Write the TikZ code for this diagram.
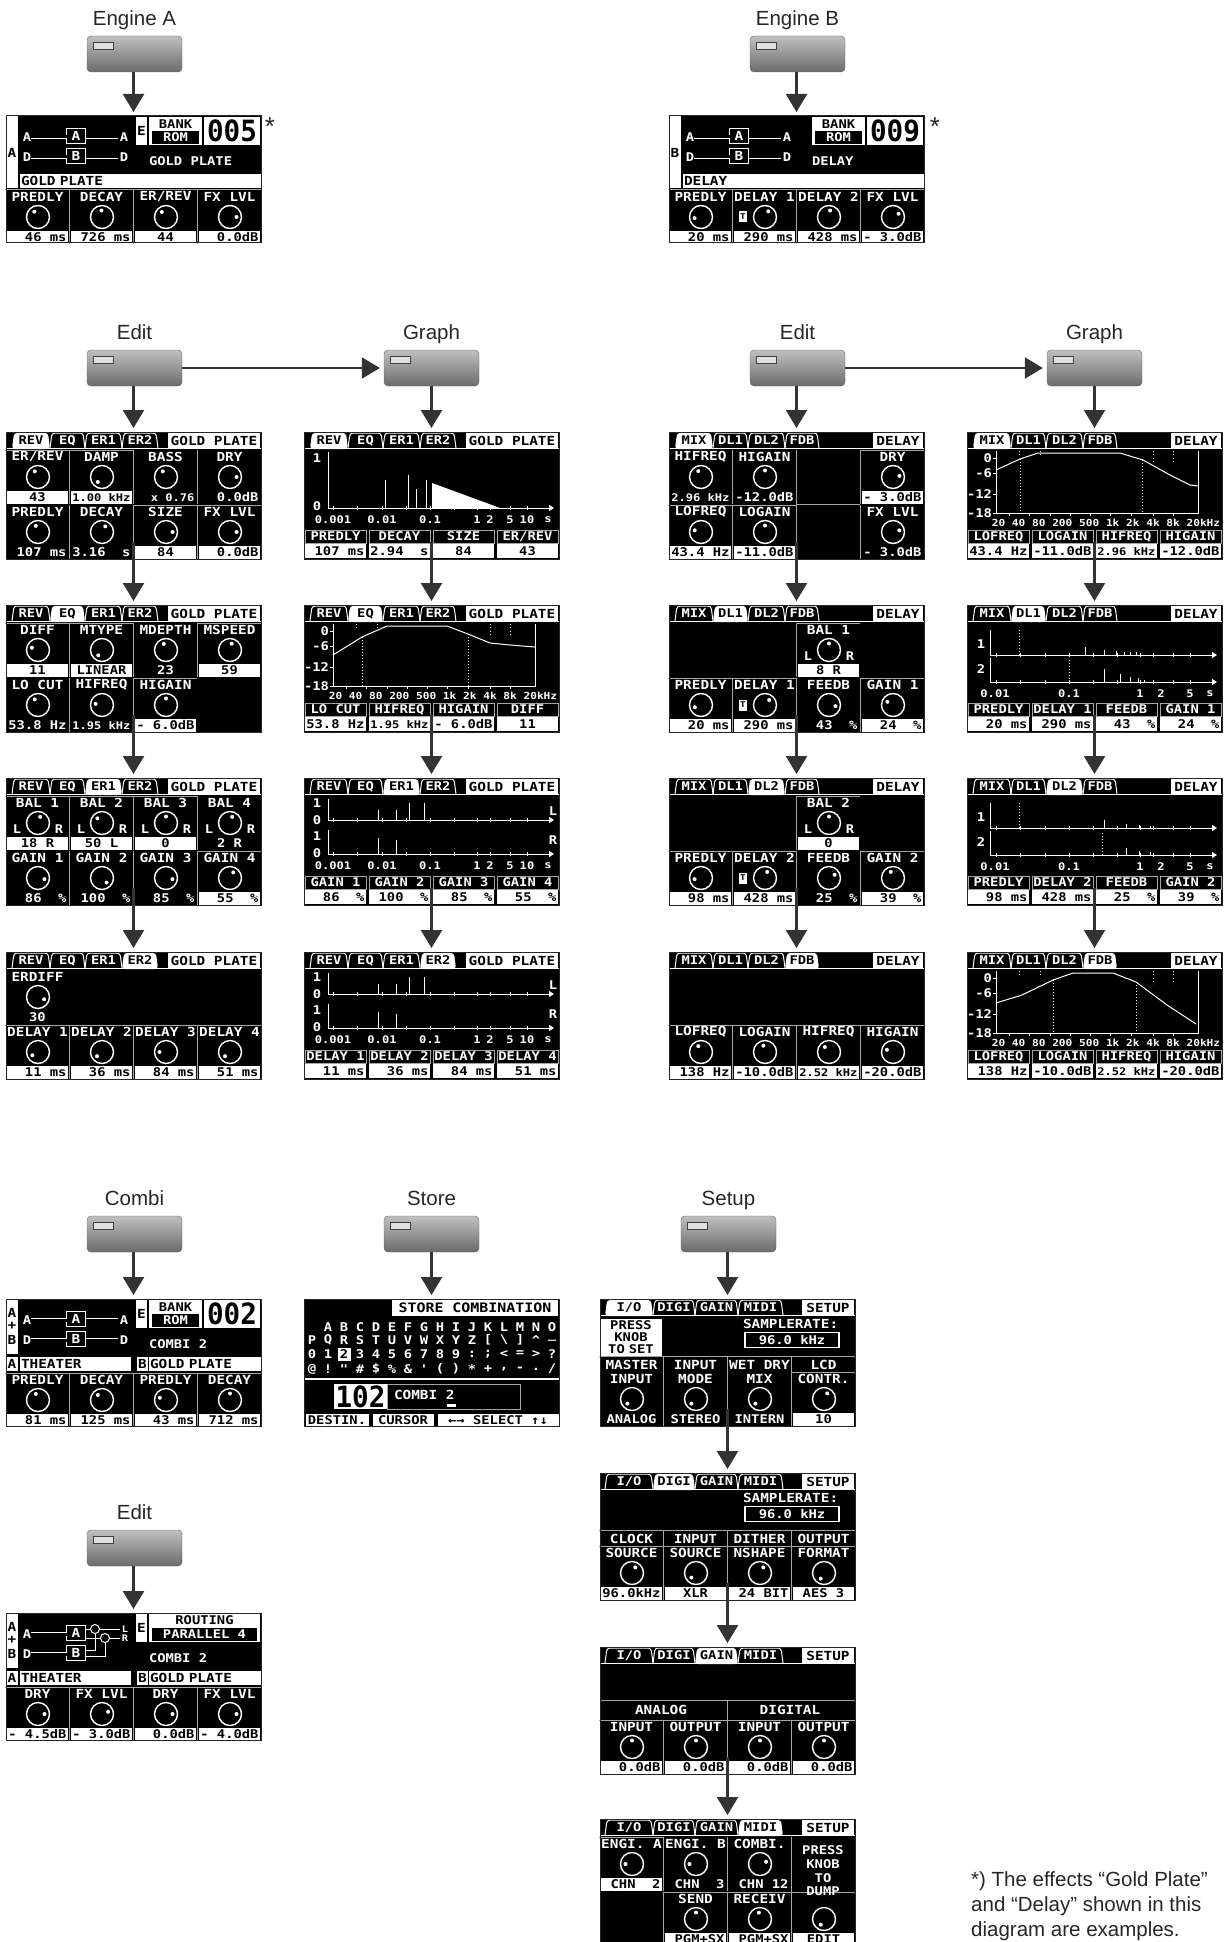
\documentclass[tikz,border=0pt]{standalone}
\usepackage{fontspec}
\usepackage{graphicx}
\setmainfont{Liberation Sans}
\newfontfamily\lcdfont[FakeStretch=1.15]{DejaVu Sans Mono}
\usetikzlibrary{arrows.meta, positioning, calc}
\newcommand{\lcdsize}[1]{\lcdfont\bfseries\fontsize{#1}{#1}\selectfont}
\newcommand{\vs}[1]{{\lcdsize{10.5}#1}}
\newcommand{\ct}[1]{\makebox[58pt][c]{#1}}
\newcommand{\bignum}[1]{\scalebox{1}[1.22]{#1}}
\newcommand{\iotext}{I/O}
\tikzset{
    btnkey/.style={rectangle, draw=black!60, rounded corners=4pt, top color=black!25, bottom color=black!58, minimum width=95pt, minimum height=36pt, inner sep=0pt},
    btnled/.style={rectangle, draw=black!75, fill=black!12, minimum width=20pt, minimum height=7pt, inner sep=0pt},
    caption/.style={font=\fontsize{20.5}{24.8}\selectfont, text=black!85, inner sep=0pt, text height=15pt, text depth=4.5pt},
    arrow/.style={-{Triangle[length=18pt,width=21pt]}, line width=2.4pt, draw=black!80, shorten >=4pt},
    lcdbox/.style={rectangle, fill=black, anchor=north west, minimum width=255pt, minimum height=127pt, inner sep=0pt, outer sep=0pt},
    lcdtxt/.style={font=\lcdsize{12.5}, text=white, inner sep=0pt, outer sep=0pt},
    lcdsmall/.style={lcdtxt, font=\lcdsize{12}},
    lcdval/.style={lcdtxt, font=\lcdsize{12}, minimum width=61pt, minimum height=13pt, text height=8pt, text depth=0pt},
    valw/.style={fill=white, text=black},
    valb/.style={fill=black, text=white},
    rulew/.style={draw=gray!70, line width=1pt},
    ruleb/.style={},
    lcdsep/.style={draw=gray!70, line width=1pt},
    lcdline/.style={draw=white, line width=1pt},
    lcdaxis/.style={lcdline, -{Triangle[length=5pt,width=6pt]}},
    lcddots/.style={draw=white, line width=1pt, dash pattern=on 1pt off 2pt},
    knobdial/.style={draw=white, line width=1.4pt},
    dline/.style={draw=white, double=black, line width=0.9pt, double distance=3pt},
    routebox/.style={lcdtxt, draw=white, line width=1pt, fill=black, minimum width=19pt, minimum height=15pt},
    mixdot/.style={circle, draw=white, line width=1pt, fill=black, minimum size=9pt, inner sep=0pt},
}
% one screen, everything inside is placed from its top left corner
\newenvironment{lcd}[3]{\node[lcdbox] (#1) at (#2,#3) {};\begin{scope}[shift={(#1.north west)}, name prefix=#1-]}{\draw[black!85, line width=1pt] (0,0) rectangle (255,127);\end{scope}}
\newcommand{\btnnode}[4]{
    \node[btnkey] (#1) at (#2,#3) {};
    \node[btnled] (#1led) at ([xshift=16.5pt,yshift=-10pt]#1.north west) {};
    \node[caption, above=5.5pt of #1] (#1cap) {#4};
}
\newcommand{\lcddial}[3]{
    \draw[knobdial] (#1,#2) circle[radius=11.5pt];
    \fill[white] ({#1+6.5*sin(#3)},{#2-6.5*cos(#3)}) circle[radius=2pt];
}
\newcommand{\lcdcell}[6]{
    \ifnum#1>0 \draw[lcdsep] (#1-1,#2) -- (#1-1,#2+54); \fi
    \path[rule#6] (#1-1,#2) -- (#1+63,#2);
    \node[lcdtxt] (lab#1x#2) at (#1+31.5,#2+7) {#3};
    \lcddial{#1+32}{#2+27}{#5}
    \node[lcdval, val#6] (val#1x#2) at (#1+31.5,#2+47.5) {\makebox[58pt][r]{#4}};
}
% first line of a two line label
\newcommand{\lcdtop}[2]{
    \draw[lcdsep] (#1-1,57) -- (#1+63,57);
    \ifnum#1>0 \draw[lcdsep] (#1-1,57) -- (#1-1,73); \fi
    \node[lcdtxt] (top#1) at (#1+31.5,66) {#2};
}
\newcommand{\lcdlr}[2]{
    \node[lcdsmall] (ll#1x#2) at (#1+11,#2+33) {L};
    \node[lcdsmall] (rr#1x#2) at (#1+53,#2+33) {R};
}
\newcommand{\lcdtbox}[2]{
    \node[lcdtxt, font=\lcdsize{8}, fill=white, text=black, minimum width=8pt, minimum height=11pt] (tb#1) at (#1+10,#2+27) {T};
}
\newcommand{\revtabs}{6/44/REV,44/79/EQ,79/116/ER1,116/152/ER2}
\newcommand{\mixtabs}{6/44/MIX,44/79/DL1,79/116/DL2,116/150/FDB}
\newcommand{\setuptabs}{5/53/\iotext,53/95/DIGI,95/138/GAIN,138/183/MIDI}
\newcommand{\tabstrip}[4]{
    \foreach \tl/\tr/\tn [count=\i] in #1 {
        \ifnum\i=#2
            \path[fill=white, rounded corners=3pt] (\tl,17) -- ({\tl+2},1) -- ({\tr-2},1) -- (\tr,17) -- cycle;
            \node[lcdsmall, text=black] (tab\i) at ({(\tl+\tr)/2},8.5) {\tn};
        \else
            \draw[lcdline, rounded corners=3pt] (\tl,16) -- ({\tl+2},1) -- ({\tr-2},1) -- (\tr,16);
            \node[lcdsmall] (tab\i) at ({(\tl+\tr)/2},8.5) {\tn};
        \fi
    }
    \draw[lcdline] (0,16.5) -- (255,16.5);
    \node[lcdtxt, fill=white, text=black, minimum width={(254-#4)*1pt}, minimum height=16pt] (title) at ({(#4+254)/2},8.5) {#3};
}
\newcommand{\lcdstrip}[1]{
    \fill[white] (0,0) rectangle (12,72);
    \node[lcdtxt, text=black] (strip) at (6,37) {#1};
}
\newcommand{\combistrip}{
    \fill[white] (0,0) rectangle (12,55);
    \node[lcdtxt, text=black] (stripa) at (6,14) {A};
    \node[lcdtxt, text=black] (stripp) at (6,27) {+};
    \node[lcdtxt, text=black] (stripb) at (6,41) {B};
}
\newcommand{\lcdband}[1]{
    \node[lcdtxt, text=black, fill=white, anchor=north west, text width=239pt, inner xsep=1pt, minimum height=14pt] (band) at (14,58) {#1};
}
\newcommand{\combiband}[2]{
    \node[lcdtxt, text=black, fill=white, minimum width=12pt, minimum height=14pt] (banda) at (6,65) {A};
    \node[lcdtxt, text=black, fill=white, anchor=north west, text width=109pt, inner xsep=1pt, minimum height=14pt] (bandat) at (14,58) {#1};
    \node[lcdtxt, text=black, fill=white, minimum width=11pt, minimum height=14pt] (bandb) at (136.5,65) {B};
    \node[lcdtxt, text=black, fill=white, anchor=north west, text width=110pt, inner xsep=1pt, minimum height=14pt] (bandbt) at (143,58) {#2};
}
\newcommand{\lcdroute}{
    \node[lcdsmall] (ina) at (21,21) {A};
    \node[lcdsmall] (ind) at (21,41) {D};
    \node[lcdsmall] (outa) at (118,21) {A};
    \node[lcdsmall] (outd) at (118,41) {D};
    \node[routebox] (boxa) at (70,20) {A};
    \node[routebox] (boxb) at (70,40) {B};
    \draw[dline] (ina.east) -- ++(3,0) -- (boxa.west |- ina.east);
    \draw[dline] (ind.east) -- ++(3,0) -- (boxb.west |- ind.east);
    \draw[dline] (boxa.east |- outa.west) -- ([xshift=-2pt]outa.west);
    \draw[dline] (boxb.east |- outd.west) -- ([xshift=-2pt]outd.west);
}
\newcommand{\lcdparallel}{
    \node[lcdsmall] (ina) at (21,21) {A};
    \node[lcdsmall] (ind) at (21,41) {D};
    \node[lcdtxt, font=\lcdsize{9}] (outl) at (119,16) {L};
    \node[lcdtxt, font=\lcdsize{9}] (outr) at (119,25) {R};
    \node[routebox] (boxa) at (70,20) {A};
    \node[routebox] (boxb) at (70,40) {B};
    \draw[dline] (ina.east) -- ++(3,0) -- (boxa.west |- ina.east);
    \draw[dline] (ind.east) -- ++(3,0) -- (boxb.west |- ind.east);
    \draw[lcdline] (80,16) -- ([xshift=-2pt]outl.west);
    \draw[lcdline] (80,25) -- ([xshift=-2pt]outr.west);
    \draw[lcdline] (80,37) -| (89,16);
    \draw[lcdline] (80,43) -| (99,25);
    \node[mixdot] (mixl) at (89,16) {};
    \node[mixdot] (mixr) at (99,25) {};
}
\newcommand{\lcdebox}{
    \fill[white] (130,1) rectangle (141,29);
    \node[lcdtxt, text=black] (ebox) at (135.5,15) {E};
}
\newcommand{\bankbox}[1]{
    \fill[white] (143,1) rectangle (196,29);
    \node[lcdsmall, text=black] (bank) at (169.5,8) {BANK};
    \node[lcdsmall, fill=black, minimum width=47pt, minimum height=13pt] (rom) at (169.5,21.5) {ROM};
    \node[lcdtxt, font=\lcdsize{24}, fill=white, text=black, minimum width=56pt, minimum height=28pt] (prog) at (226,15) {\bignum{#1}};
}
\newcommand{\lcdtitle}[1]{
    \node[lcdsmall, anchor=west] (name) at (143,45) {#1};
}
\newcommand{\graphcell}[3]{
    \node[lcdval, valb, draw=gray!70, line width=1pt, minimum width=61pt] (lab#1) at (#1+31.5,104.5) {#2};
    \node[lcdval, valw, minimum height=14pt] (val#1) at (#1+31.5,119) {\makebox[58pt][r]{#3}};
}
\newcommand{\timelabels}{
    \foreach \tx/\tt in {29/0.001,78/0.01,126/0.1,173/1,186/2,206/5,223/10,244/s} {
        \node[lcdtxt, font=\lcdsize{10.5}] (tm\tx) at (\tx,88) {\tt};
    }
}
\newcommand{\timeaxis}[3]{
    \draw[lcdline] (#1,#3) -- (#1,#2);
    \draw[lcdaxis] (#1,#2) -- (250,#2);
    \foreach \tx in {29,53,78,102,126,150,173,186,206,223} {
        \draw[lcdline] (\tx,#2-2) -- (\tx,#2+2);
    }
}
\newcommand{\ertimes}{
    \timeaxis{24}{42}{21}
    \timeaxis{24}{76}{52}
    \node[lcdsmall] (yaa) at (13,25) {1};
    \node[lcdsmall] (yab) at (13,42) {0};
    \node[lcdsmall] (yba) at (13,58) {1};
    \node[lcdsmall] (ybb) at (13,75) {0};
    \node[lcdsmall] (side1) at (249,33) {L};
    \node[lcdsmall] (side2) at (249,62) {R};
    \timelabels
}
\newcommand{\dltimes}{
    \timeaxis{23}{50}{25}
    \timeaxis{23}{77}{53}
    \node[lcdsmall] (ya) at (14,39) {1};
    \node[lcdsmall] (yb) at (14,64) {2};
    \foreach \tx/\tt in {28/0.01,102/0.1,173/1,194/2,223/5,243/s} {
        \node[lcdtxt, font=\lcdsize{10.5}] (tm\tx) at (\tx,89) {\tt};
    }
}
\newcommand{\eqaxis}{
    \draw[lcdline] (29,19) -- (29,81) -- (231,81) -- (231,19);
    \foreach \yy/\yl in {26/0,41/-6,62/-12,81/-18} {
        \node[lcdsmall, anchor=east] (yl\yy) at (25,\yy) {\yl};
        \draw[lcdline] (26,\yy) -- (29,\yy);
    }
    \foreach \xx in {42,62,83,103,123,143,164,186,206} {
        \draw[lcdline] (\xx,81) -- (\xx,84);
    }
    \foreach \xx in {52,73,186,206} {
        \draw[lcddots] (\xx,19) -- (\xx,24);
    }
    \draw[lcddots] (186,26) -- (186,32);
    \draw[lcddots] (206,26) -- (206,32);
    \node[lcdtxt, font=\lcdsize{9.7}] (freq) at (139,91) {20 40 80 200 500 1k 2k 4k 8k 20kHz};
}
\newcommand{\storerow}[3]{
    \foreach \ch [count=\i from #2] in {#3} {
        \node[lcdsmall] (ch#1x\i) at ({8+16*\i},#1) {\ch};
    }
}
\newcommand{\samplerate}{
    \node[lcdtxt, anchor=west] (srate) at (143,25) {SAMPLERATE:};
    \node[lcdsmall, draw=white, line width=1.4pt, fill=black, minimum width=94pt, minimum height=15pt] (srval) at (192,41) {96.0 kHz};
}
\begin{document}
\begin{tikzpicture}[x=1pt, y=-1pt]
    \path[use as bounding box, clip] (0,0) rectangle (1228,1942);

    % Engine A
    \btnnode{btnenga}{134.5}{54}{Engine A}
    \begin{lcd}{enga}{6}{116}
        \lcdstrip{A} \lcdband{GOLD PLATE}
        \lcdroute \lcdebox \bankbox{005} \lcdtitle{GOLD PLATE}
        \lcdcell{0}{74}{PREDLY}{46 ms}{-35}{w}
        \lcdcell{64}{74}{DECAY}{726 ms}{-5}{w}
        \lcdcell{128}{74}{ER/REV}{\ct{44}}{-40}{w}
        \lcdcell{192}{74}{FX LVL}{0.0dB}{90}{w}
    \end{lcd}
    \node[caption, font=\fontsize{26}{26}\selectfont] (stara) at (270,130) {*};

    % Engine B
    \btnnode{btnengb}{797.5}{54}{Engine B}
    \begin{lcd}{engb}{669}{116}
        \lcdstrip{B} \lcdband{DELAY}
        \lcdroute \bankbox{009} \lcdtitle{DELAY}
        \lcdcell{0}{74}{PREDLY}{20 ms}{-100}{w}
        \lcdcell{64}{74}{DELAY 1}{290 ms}{30}{w} \lcdtbox{64}{74}
        \lcdcell{128}{74}{DELAY 2}{428 ms}{10}{w}
        \lcdcell{192}{74}{FX LVL}{- 3.0dB}{60}{w}
    \end{lcd}
    \node[caption, font=\fontsize{26}{26}\selectfont] (starb) at (935,130) {*};

    % Edit A
    \btnnode{btnedita}{134.5}{368}{Edit}
    \btnnode{btngrapha}{431.5}{368}{Graph}
    \begin{lcd}{reva}{6}{432}
        \tabstrip{\revtabs}{1}{GOLD PLATE}{162}
        \lcdcell{0}{18}{ER/REV}{\ct{43}}{-30}{w}
        \lcdcell{64}{18}{DAMP}{\vs{1.00 kHz}}{-140}{w}
        \lcdcell{128}{18}{BASS}{\vs{x 0.76}}{-30}{b}
        \lcdcell{192}{18}{DRY}{0.0dB}{90}{b}
        \lcdcell{0}{73}{PREDLY}{107 ms}{-20}{b}
        \lcdcell{64}{73}{DECAY}{3.16~~s}{30}{b}
        \lcdcell{128}{73}{SIZE}{\ct{84}}{90}{w}
        \lcdcell{192}{73}{FX LVL}{0.0dB}{90}{w}
    \end{lcd}
    \begin{lcd}{eqa}{6}{605}
        \tabstrip{\revtabs}{2}{GOLD PLATE}{162}
        \lcdcell{0}{18}{DIFF}{\ct{11}}{-70}{w}
        \lcdcell{64}{18}{MTYPE}{\ct{LINEAR}}{-145}{w}
        \lcdcell{128}{18}{MDEPTH}{\ct{23}}{-20}{b}
        \lcdcell{192}{18}{MSPEED}{\ct{59}}{15}{w}
        \lcdcell{0}{73}{LO CUT}{53.8 Hz}{-30}{b}
        \lcdcell{64}{73}{HIFREQ}{\vs{1.95 kHz}}{-80}{b}
        \lcdcell{128}{73}{HIGAIN}{- 6.0dB}{0}{w}
    \end{lcd}
    \begin{lcd}{era}{6}{778}
        \tabstrip{\revtabs}{3}{GOLD PLATE}{162}
        \lcdcell{0}{18}{BAL 1}{\ct{18 R}}{20}{w} \lcdlr{0}{18}
        \lcdcell{64}{18}{BAL 2}{\ct{50 L}}{-45}{w} \lcdlr{64}{18}
        \lcdcell{128}{18}{BAL 3}{\ct{0}}{0}{w} \lcdlr{128}{18}
        \lcdcell{192}{18}{BAL 4}{\ct{2 R}}{20}{b} \lcdlr{192}{18}
        \lcdcell{0}{73}{GAIN 1}{86~~\%}{100}{b}
        \lcdcell{64}{73}{GAIN 2}{100~~\%}{135}{b}
        \lcdcell{128}{73}{GAIN 3}{85~~\%}{100}{b}
        \lcdcell{192}{73}{GAIN 4}{55~~\%}{30}{w}
    \end{lcd}
    \begin{lcd}{erb}{6}{952}
        \tabstrip{\revtabs}{4}{GOLD PLATE}{162}
        \lcdcell{0}{18}{ERDIFF}{\ct{30}}{110}{b}
        \lcdcell{0}{73}{DELAY 1}{11 ms}{-120}{w}
        \lcdcell{64}{73}{DELAY 2}{36 ms}{-130}{w}
        \lcdcell{128}{73}{DELAY 3}{84 ms}{-90}{w}
        \lcdcell{192}{73}{DELAY 4}{51 ms}{-130}{w}
    \end{lcd}

    % Graph A
    \begin{lcd}{greva}{304}{432}
        \tabstrip{\revtabs}{1}{GOLD PLATE}{162}
        \timeaxis{24}{76}{20}
        \node[lcdsmall] (ya) at (13,26) {1};
        \node[lcdsmall] (yb) at (13,74) {0};
        \draw[lcdline] (81,76) -- (81,48);
        \draw[lcdline] (104,76) -- (104,43);
        \draw[lcdline] (112,76) -- (112,57);
        \draw[lcdline] (122,76) -- (122,48);
        \fill[white] (128,51) -- (196,76) -- (128,76) -- cycle;
        \timelabels
        \graphcell{0}{PREDLY}{107 ms}
        \graphcell{64}{DECAY}{2.94~~s}
        \graphcell{128}{SIZE}{\ct{84}}
        \graphcell{192}{ER/REV}{\ct{43}}
    \end{lcd}
    \begin{lcd}{geqa}{304}{605}
        \tabstrip{\revtabs}{2}{GOLD PLATE}{162}
        \eqaxis
        \draw[lcdline] (29,50) -- (58,32) -- (83,21) -- (143,21) -- (164,29) -- (186,38) -- (206,40) -- (231,42);
        \draw[lcddots] (58,32) -- (58,81);
        \draw[lcddots] (164,29) -- (164,81);
        \graphcell{0}{LO CUT}{53.8 Hz}
        \graphcell{64}{HIFREQ}{\vs{1.95 kHz}}
        \graphcell{128}{HIGAIN}{- 6.0dB}
        \graphcell{192}{DIFF}{\ct{11}}
    \end{lcd}
    \begin{lcd}{gera}{304}{778}
        \tabstrip{\revtabs}{3}{GOLD PLATE}{162}
        \ertimes
        \draw[lcdline] (74,42) -- (74,32);
        \draw[lcdline] (92,42) -- (92,32);
        \draw[lcdline] (105,42) -- (105,25);
        \draw[lcdline] (120,42) -- (120,25);
        \draw[lcdline] (74,76) -- (74,60);
        \draw[lcdline] (92,76) -- (92,62);
        \graphcell{0}{GAIN 1}{86~~\%}
        \graphcell{64}{GAIN 2}{100~~\%}
        \graphcell{128}{GAIN 3}{85~~\%}
        \graphcell{192}{GAIN 4}{55~~\%}
    \end{lcd}
    \begin{lcd}{gerb}{304}{952}
        \tabstrip{\revtabs}{4}{GOLD PLATE}{162}
        \ertimes
        \draw[lcdline] (74,42) -- (74,32);
        \draw[lcdline] (92,42) -- (92,32);
        \draw[lcdline] (105,42) -- (105,25);
        \draw[lcdline] (120,42) -- (120,25);
        \draw[lcdline] (74,76) -- (74,60);
        \draw[lcdline] (92,76) -- (92,62);
        \graphcell{0}{DELAY 1}{11 ms}
        \graphcell{64}{DELAY 2}{36 ms}
        \graphcell{128}{DELAY 3}{84 ms}
        \graphcell{192}{DELAY 4}{51 ms}
    \end{lcd}

    % Edit B
    \btnnode{btneditb}{797.5}{368}{Edit}
    \btnnode{btngraphb}{1094.5}{368}{Graph}
    \begin{lcd}{mixb}{669}{432}
        \tabstrip{\mixtabs}{1}{DELAY}{204}
        \lcdcell{0}{18}{HIFREQ}{\vs{2.96 kHz}}{-25}{b}
        \lcdcell{64}{18}{HIGAIN}{-12.0dB}{0}{b}
        \lcdcell{192}{18}{DRY}{- 3.0dB}{80}{w}
        \lcdcell{0}{73}{LOFREQ}{43.4 Hz}{-75}{w}
        \lcdcell{64}{73}{LOGAIN}{-11.0dB}{0}{w}
        \lcdcell{192}{73}{FX LVL}{- 3.0dB}{75}{b}
        \draw[lcdsep] (127,18) -- (127,127);
        \draw[lcdsep] (127,72.5) -- (191,72.5);
    \end{lcd}
    \begin{lcd}{dla}{669}{605}
        \tabstrip{\mixtabs}{2}{DELAY}{204}
        \lcdcell{128}{18}{BAL 1}{\ct{8 R}}{0}{w} \lcdlr{128}{18}
        \lcdcell{0}{73}{PREDLY}{20 ms}{-110}{w}
        \lcdcell{64}{73}{DELAY 1}{290 ms}{40}{w} \lcdtbox{64}{73}
        \lcdcell{128}{73}{FEEDB}{43~~\%}{100}{b}
        \lcdcell{192}{73}{GAIN 1}{24~~\%}{-60}{w}
    \end{lcd}
    \begin{lcd}{dlb}{669}{778}
        \tabstrip{\mixtabs}{3}{DELAY}{204}
        \lcdcell{128}{18}{BAL 2}{\ct{0}}{0}{w} \lcdlr{128}{18}
        \lcdcell{0}{73}{PREDLY}{98 ms}{-100}{w}
        \lcdcell{64}{73}{DELAY 2}{428 ms}{20}{w} \lcdtbox{64}{73}
        \lcdcell{128}{73}{FEEDB}{25~~\%}{60}{b}
        \lcdcell{192}{73}{GAIN 2}{39~~\%}{-20}{w}
    \end{lcd}
    \begin{lcd}{fdbb}{669}{952}
        \tabstrip{\mixtabs}{4}{DELAY}{204}
        \lcdcell{0}{73}{LOFREQ}{138 Hz}{-25}{w}
        \lcdcell{64}{73}{LOGAIN}{-10.0dB}{-15}{w}
        \lcdcell{128}{73}{HIFREQ}{\vs{2.52 kHz}}{-40}{w}
        \lcdcell{192}{73}{HIGAIN}{-20.0dB}{-70}{w}
    \end{lcd}

    % Graph B
    \begin{lcd}{gmixb}{967}{432}
        \tabstrip{\mixtabs}{1}{DELAY}{204}
        \eqaxis
        \draw[lcdline] (29,38) -- (53,27) -- (71,21) -- (153,21) -- (176,28) -- (203,43) -- (223,53) -- (231,54);
        \draw[lcddots] (53,27) -- (53,81);
        \draw[lcddots] (175,28) -- (175,81);
        \graphcell{0}{LOFREQ}{43.4 Hz}
        \graphcell{64}{LOGAIN}{-11.0dB}
        \graphcell{128}{HIFREQ}{\vs{2.96 kHz}}
        \graphcell{192}{HIGAIN}{-12.0dB}
    \end{lcd}
    \begin{lcd}{gdla}{967}{605}
        \tabstrip{\mixtabs}{2}{DELAY}{204}
        \dltimes
        \draw[lcddots] (52,50) -- (52,25);
        \draw[lcddots] (102,77) -- (102,53);
        \foreach \sx/\sy in {118/42,137/45,149/46,157/47,163/47,169/47} {
            \draw[lcdline] (\sx,50) -- (\sx,\sy);
        }
        \foreach \sx/\sy in {137/64,153/69,163/72,171/73,177/75} {
            \draw[lcdline] (\sx,77) -- (\sx,\sy);
        }
        \graphcell{0}{PREDLY}{20 ms}
        \graphcell{64}{DELAY 1}{290 ms}
        \graphcell{128}{FEEDB}{43~~\%}
        \graphcell{192}{GAIN 1}{24~~\%}
    \end{lcd}
    \begin{lcd}{gdlb}{967}{778}
        \tabstrip{\mixtabs}{3}{DELAY}{204}
        \dltimes
        \draw[lcddots] (52,50) -- (52,25);
        \draw[lcddots] (135,77) -- (135,53);
        \foreach \sx/\sy in {137/42,159/46,172/47,183/48} {
            \draw[lcdline] (\sx,50) -- (\sx,\sy);
        }
        \foreach \sx/\sy in {159/70,172/73,183/74} {
            \draw[lcdline] (\sx,77) -- (\sx,\sy);
        }
        \graphcell{0}{PREDLY}{98 ms}
        \graphcell{64}{DELAY 2}{428 ms}
        \graphcell{128}{FEEDB}{25~~\%}
        \graphcell{192}{GAIN 2}{39~~\%}
    \end{lcd}
    \begin{lcd}{gfdbb}{967}{952}
        \tabstrip{\mixtabs}{4}{DELAY}{204}
        \eqaxis
        \draw[lcdline] (29,51) -- (55,43) -- (86,28) -- (106,21) -- (146,21) -- (169,30) -- (200,53) -- (229,72);
        \draw[lcddots] (86,28) -- (86,81);
        \draw[lcddots] (169,30) -- (169,81);
        \graphcell{0}{LOFREQ}{138 Hz}
        \graphcell{64}{LOGAIN}{-10.0dB}
        \graphcell{128}{HIFREQ}{\vs{2.52 kHz}}
        \graphcell{192}{HIGAIN}{-20.0dB}
    \end{lcd}

    % Combi
    \btnnode{btncombi}{134.5}{1234}{Combi}
    \begin{lcd}{combi}{6}{1299}
        \combistrip \combiband{THEATER}{GOLD PLATE}
        \lcdroute \lcdebox \bankbox{002} \lcdtitle{COMBI 2}
        \lcdcell{0}{74}{PREDLY}{81 ms}{-20}{w}
        \lcdcell{64}{74}{DECAY}{125 ms}{-40}{w}
        \lcdcell{128}{74}{PREDLY}{43 ms}{-70}{w}
        \lcdcell{192}{74}{DECAY}{712 ms}{0}{w}
    \end{lcd}

    % Store
    \btnnode{btnstore}{431.5}{1234}{Store}
    \begin{lcd}{store}{304}{1299}
        \node[lcdtxt, font=\lcdsize{13}, fill=white, text=black, minimum width=166pt, minimum height=16pt] (stitle) at (171,8.5) {STORE COMBINATION};
        \storerow{28}{1}{A,B,C,D,E,F,G,H,I,J,K,L,M,N,O}
        \storerow{41}{0}{P,Q,R,S,T,U,V,W,X,Y,Z,{[},\textbackslash,{]},\textasciicircum,\_}
        \storerow{55}{0}{0,1,2,3,4,5,6,7,8,9,:,;,<,=,>,?}
        \storerow{70}{0}{@,!,",\#,\$,\%,\&,',{(},{)},*,+,{,},-,.,/}
        \node[lcdsmall, fill=white, text=black, minimum width=13pt, minimum height=13pt] (cursor) at (40,55) {2};
        \draw[lcdline, line width=1.5pt] (0,80) -- (255,80);
        \node[lcdtxt, font=\lcdsize{24}, fill=white, text=black, minimum width=53pt, minimum height=25pt] (dest) at (56.5,97.5) {\bignum{102}};
        \node[lcdtxt, draw=gray!70, line width=1pt, fill=black, minimum width=133pt, minimum height=25pt] (destname) at (149.5,97.5) {};
        \node[lcdtxt, anchor=west] (destt) at (90,96) {COMBI 2};
        \fill[white] (143,105) rectangle (152,108);
        \node[lcdval, valw, draw=black, minimum width=64pt] (fdest) at (33,121) {DESTIN.};
        \node[lcdval, valw, draw=black, minimum width=62pt] (fcurs) at (99,121) {CURSOR};
        \node[lcdval, valw, draw=black, minimum width=122pt] (fsel) at (194,121) {←→ SELECT ↑↓};
    \end{lcd}

    % Setup
    \btnnode{btnsetup}{728.5}{1234}{Setup}
    \begin{lcd}{iotab}{600}{1299}
        \tabstrip{\setuptabs}{1}{SETUP}{202}
        \node[lcdsmall, fill=white, text=black, align=center, text width=62pt, minimum height=37pt] (press) at (31,38.5) {PRESS\\KNOB\\TO SET};
        \samplerate
        \lcdcell{0}{73}{INPUT}{\ct{ANALOG}}{-135}{b} \lcdtop{0}{MASTER}
        \lcdcell{64}{73}{MODE}{\ct{STEREO}}{-135}{b} \lcdtop{64}{INPUT}
        \lcdcell{128}{73}{MIX}{\ct{INTERN}}{-135}{b} \lcdtop{128}{WET DRY}
        \lcdcell{192}{73}{CONTR.}{\ct{10}}{30}{w} \lcdtop{192}{LCD}
    \end{lcd}
    \begin{lcd}{digitab}{600}{1473}
        \tabstrip{\setuptabs}{2}{SETUP}{202}
        \samplerate
        \lcdcell{0}{73}{SOURCE}{96.0kHz}{30}{w} \lcdtop{0}{CLOCK}
        \lcdcell{64}{73}{SOURCE}{\ct{XLR}}{-135}{w} \lcdtop{64}{INPUT}
        \lcdcell{128}{73}{NSHAPE}{24 BIT}{30}{w} \lcdtop{128}{DITHER}
        \lcdcell{192}{73}{FORMAT}{\ct{AES 3}}{-150}{w} \lcdtop{192}{OUTPUT}
    \end{lcd}
    \begin{lcd}{gaintab}{600}{1647}
        \tabstrip{\setuptabs}{3}{SETUP}{202}
        \draw[lcdsep] (0,53) -- (255,53);
        \draw[lcdsep] (127,53) -- (127,73);
        \node[lcdtxt] (analog) at (61,63) {ANALOG};
        \node[lcdtxt] (digital) at (190,63) {DIGITAL};
        \lcdcell{0}{73}{INPUT}{0.0dB}{0}{w}
        \lcdcell{64}{73}{OUTPUT}{0.0dB}{0}{w}
        \lcdcell{128}{73}{INPUT}{0.0dB}{0}{w}
        \lcdcell{192}{73}{OUTPUT}{0.0dB}{0}{w}
    \end{lcd}
    \begin{lcd}{miditab}{600}{1819}
        \tabstrip{\setuptabs}{4}{SETUP}{202}
        \lcdcell{0}{18}{ENGI. A}{CHN~~2}{-90}{w}
        \lcdcell{64}{18}{ENGI. B}{CHN~~3}{-90}{b}
        \lcdcell{128}{18}{COMBI.}{CHN 12}{70}{b}
        \lcdcell{64}{73}{SEND}{PGM+SX}{0}{w}
        \lcdcell{128}{73}{RECEIV}{PGM+SX}{-10}{w}
        \lcdcell{192}{73}{}{\ct{EDIT}}{-150}{w}
        \draw[lcdsep] (191,18) -- (191,73);
        \node[lcdsmall, font={\lcdfont\bfseries\fontsize{12}{13.6}\selectfont}, align=center] (dump) at (223,52) {PRESS\\KNOB\\TO\\DUMP};
    \end{lcd}

    % Edit Combi
    \btnnode{btneditc}{134.5}{1548}{Edit}
    \begin{lcd}{editc}{6}{1613}
        \combistrip \combiband{THEATER}{GOLD PLATE}
        \lcdparallel \lcdebox
        \fill[white] (143,1) rectangle (254,29);
        \node[lcdsmall, text=black] (rout) at (198.5,7.5) {ROUTING};
        \node[lcdsmall, fill=black, minimum width=105pt, minimum height=13pt] (rpar) at (198.5,21.5) {PARALLEL 4};
        \lcdtitle{COMBI 2}
        \lcdcell{0}{74}{DRY}{- 4.5dB}{90}{w}
        \lcdcell{64}{74}{FX LVL}{- 3.0dB}{70}{w}
        \lcdcell{128}{74}{DRY}{0.0dB}{90}{w}
        \lcdcell{192}{74}{FX LVL}{- 4.0dB}{90}{w}
    \end{lcd}

    % Footnote
    \node[caption, text height=, text depth=, align=left, anchor=west] (note) at (971,1906) {*) The effects “Gold Plate”\\and “Delay” shown in this\\diagram are examples.};

    % Arrows
    \draw[arrow] (btnenga.south -| enga.north) -- (enga.north);
    \draw[arrow] (btnengb.south -| engb.north) -- (engb.north);
    \draw[arrow] (btnedita) -- (btngrapha);
    \draw[arrow] (btneditb) -- (btngraphb);
    \draw[arrow] (btnedita.south -| reva.north) -- (reva.north);
    \draw[arrow] (btngrapha.south -| greva.north) -- (greva.north);
    \draw[arrow] (btneditb.south -| mixb.north) -- (mixb.north);
    \draw[arrow] (btngraphb.south -| gmixb.north) -- (gmixb.north);
    \draw[arrow] ([yshift=17pt]reva.south) -- (eqa.north);
    \draw[arrow] ([yshift=17pt]eqa.south) -- (era.north);
    \draw[arrow] ([yshift=17pt]era.south) -- (erb.north);
    \draw[arrow] ([yshift=17pt]greva.south) -- (geqa.north);
    \draw[arrow] ([yshift=17pt]geqa.south) -- (gera.north);
    \draw[arrow] ([yshift=17pt]gera.south) -- (gerb.north);
    \draw[arrow] ([yshift=17pt]mixb.south) -- (dla.north);
    \draw[arrow] ([yshift=17pt]dla.south) -- (dlb.north);
    \draw[arrow] ([yshift=17pt]dlb.south) -- (fdbb.north);
    \draw[arrow] ([yshift=17pt]gmixb.south) -- (gdla.north);
    \draw[arrow] ([yshift=17pt]gdla.south) -- (gdlb.north);
    \draw[arrow] ([yshift=17pt]gdlb.south) -- (gfdbb.north);
    \draw[arrow] (btncombi.south -| combi.north) -- (combi.north);
    \draw[arrow] (btnstore.south -| store.north) -- (store.north);
    \draw[arrow] (btnsetup.south -| iotab.north) -- (iotab.north);
    \draw[arrow] (btneditc.south -| editc.north) -- (editc.north);
    \draw[arrow] ([yshift=17pt]iotab.south) -- (digitab.north);
    \draw[arrow] ([yshift=17pt]digitab.south) -- (gaintab.north);
    \draw[arrow] ([yshift=17pt]gaintab.south) -- (miditab.north);
\end{tikzpicture}
\end{document}
